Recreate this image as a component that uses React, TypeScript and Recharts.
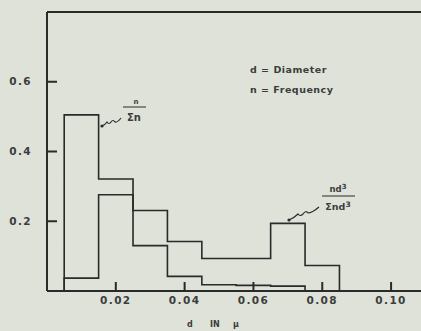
import { ComposedChart, Line, XAxis, YAxis, ReferenceLine } from 'recharts';

// bin starts (d in microns), width 0.01
const binStarts = [0.005, 0.015, 0.025, 0.035, 0.045, 0.055, 0.065, 0.075];
const binEnd = 0.085;

// n / Σn  (number fraction)
const nFraction = [0.505, 0.321, 0.13, 0.042, 0.018, 0.016, 0.014, 0];
// nd³ / Σnd³  (volume fraction)
const nd3Fraction = [0.037, 0.276, 0.231, 0.142, 0.093, 0.093, 0.194, 0.073];

const xTicks = [0.02, 0.04, 0.06, 0.08, 0.1];
const yTicks = [0.2, 0.4, 0.6];

const bg = '#dee2d8';
const ink = '#2a2a2a';
const textInk = '#3c3c3c';
const font = '"DejaVu Sans", sans-serif';

// step rows: start at zero, one row per bin start, closing row at the last edge
const data = [
  { d: binStarts[0], n: 0, nd3: 0 },
  ...binStarts.map((d, i) => ({ d, n: nFraction[i], nd3: nd3Fraction[i] })),
  { d: binEnd, n: null, nd3: 0 },
];

const tickStyle = { fontFamily: font, fontWeight: 700, fontSize: 10.5, fill: textInk, letterSpacing: 1.4 };

export default function App() {
  return (
    <div style={{ position: 'absolute', left: 0, top: 0, width: 421, height: 331, background: bg }}>
      <ComposedChart width={421} height={331} data={data} margin={{ top: 12, right: 0, bottom: 0, left: 0 }}>
        <XAxis
          dataKey="d"
          type="number"
          domain={[0, 0.1087]}
          allowDataOverflow
          ticks={xTicks}
          tickFormatter={(v: number) => v.toFixed(2)}
          height={40}
          tickSize={-9}
          tickMargin={15}
          stroke={ink}
          strokeWidth={2}
          tick={tickStyle}
        />
        <YAxis
          type="number"
          domain={[0, 0.8]}
          allowDataOverflow
          ticks={yTicks}
          tickFormatter={(v: number) => v.toFixed(1)}
          width={47}
          tickSize={-10}
          tickMargin={25}
          stroke={ink}
          strokeWidth={2}
          tick={tickStyle}
        />
        <ReferenceLine y={0.8} stroke={ink} strokeWidth={2} />
        <Line
          type="stepAfter"
          dataKey="n"
          stroke={ink}
          strokeWidth={1.6}
          dot={false}
          isAnimationActive={false}
        />
        <Line
          type="stepAfter"
          dataKey="nd3"
          stroke={ink}
          strokeWidth={1.6}
          dot={false}
          isAnimationActive={false}
        />
      </ComposedChart>
      <svg
        width={421}
        height={331}
        style={{ position: 'absolute', left: 0, top: 0, pointerEvents: 'none' }}
        fontFamily={font}
        fontWeight={700}
        fill={textInk}
      >
        <text x={250} y={72.5} fontSize={9.5} letterSpacing={0.5}>d = Diameter</text>
        <text x={250} y={92.5} fontSize={9.5} letterSpacing={0.5}>n = Frequency</text>

        {/* n / Σn */}
        <path d="M102 126 q3 -1 5 -4 q2 3 4 0 q2 -3 4 0 q2 1 6 -4" stroke={ink} strokeWidth={1.2} fill="none" />
        <circle cx={102} cy={126} r={1.6} fill={ink} />
        <text x={136} y={104} fontSize={7} textAnchor="middle">n</text>
        <line x1={123} y1={107} x2={146} y2={107} stroke={ink} strokeWidth={1} />
        <text x={134} y={121} fontSize={10} textAnchor="middle">Σn</text>

        {/* nd³ / Σnd³ */}
        <path d="M289 220 q5 -2 9 -6 q2 3 5 0 q3 -4 5 -1 q4 0 11 -6" stroke={ink} strokeWidth={1.2} fill="none" />
        <circle cx={289} cy={220} r={1.6} fill={ink} />
        <text x={338} y={192} fontSize={8.5} textAnchor="middle">
          nd<tspan dy={-3} fontSize={7}>3</tspan>
        </text>
        <line x1={322} y1={196} x2={355} y2={196} stroke={ink} strokeWidth={1} />
        <text x={338} y={210} fontSize={9.5} textAnchor="middle">
          Σnd<tspan dy={-3} fontSize={7.5}>3</tspan>
        </text>

        <text x={187} y={327} fontSize={8}>d</text>
        <text x={210} y={327} fontSize={8}>IN</text>
        <text x={233} y={327} fontSize={8}>μ</text>
      </svg>
    </div>
  );
}
